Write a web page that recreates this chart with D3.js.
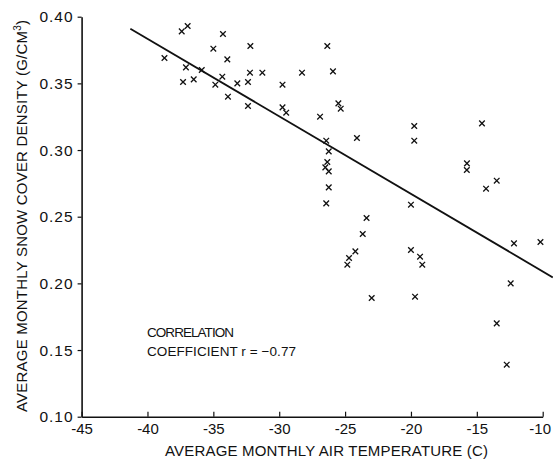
<!DOCTYPE html>
<html><head><meta charset="utf-8">
<script src="https://cdn.jsdelivr.net/npm/d3@7"></script>
<style>html,body{margin:0;padding:0;background:#fff;}svg{display:block;}</style>
</head><body>
<script>
const temps = [-38.71,-37.40,-36.95,-37.08,-37.30,-36.49,-35.88,-35.00,-34.27,-33.94,-34.32,-34.85,-33.18,-32.37,-32.19,-32.22,-31.28,-33.89,-32.37,-29.75,-29.75,-29.47,-28.27,-26.35,-25.92,-25.51,-25.33,-26.90,-26.43,-24.10,-26.24,-26.35,-26.50,-26.24,-26.24,-26.43,-23.37,-23.66,-24.22,-24.70,-24.83,-22.98,-19.75,-19.75,-20.0,-20.0,-19.31,-19.14,-19.69,-14.61,-15.75,-15.76,-13.49,-14.30,-12.18,-10.17,-12.43,-13.49,-12.73];
const densities = [0.369,0.389,0.393,0.362,0.351,0.353,0.360,0.376,0.387,0.368,0.355,0.349,0.350,0.351,0.378,0.358,0.358,0.340,0.333,0.349,0.332,0.328,0.358,0.378,0.359,0.335,0.331,0.325,0.307,0.309,0.299,0.291,0.287,0.284,0.272,0.260,0.249,0.237,0.224,0.219,0.214,0.189,0.318,0.307,0.259,0.225,0.220,0.214,0.190,0.320,0.290,0.285,0.277,0.271,0.230,0.231,0.200,0.170,0.139];
const fitT = [-41.3, -9.23];
const fitD = [0.391, 0.2045];
const xTicks = [-45,-40,-35,-30,-25,-20,-15,-10];
const xTickLabels = ["-45","-40","-35","-30","-25","-20","-15","-10"];
const yTicks = [0.10,0.15,0.20,0.25,0.30,0.35,0.40];
const yTickLabels = ["0.10","0.15","0.20","0.25","0.30","0.35","0.40"];

const W = 553, H = 464;
const svg = d3.select("body").append("svg").attr("width", W).attr("height", H);
const x = d3.scaleLinear().domain([-45,-10]).range([81.6,542.7]);
const y = d3.scaleLinear().domain([0.10,0.40]).range([416.7,16.7]);
const font = "'Liberation Sans', Arial, sans-serif";

// x axis
const xa = svg.append("g").attr("transform", `translate(0,${y(0.10)})`)
  .call(d3.axisBottom(x).tickValues(xTicks).tickSize(-5).tickFormat((d,i)=>xTickLabels[i]).tickSizeOuter(0));
xa.select(".domain").attr("stroke","#111").attr("stroke-width",1.6);
xa.selectAll(".tick line").attr("stroke","#111").attr("stroke-width",1.2);
xa.selectAll(".tick text").attr("font-family",font).attr("font-size",15).attr("fill","#111")
  .attr("y",7).attr("dy","0.71em").attr("dx",(d,i)=> i===xTicks.length-1 ? -3 : 0);

// y axis
const ya = svg.append("g").attr("transform", `translate(${x(-45)},0)`)
  .call(d3.axisLeft(y).tickValues(yTicks).tickSize(4).tickFormat((d,i)=>yTickLabels[i]).tickSizeOuter(0));
ya.select(".domain").attr("stroke","#111").attr("stroke-width",1.6);
ya.selectAll(".tick line").attr("stroke","#111").attr("stroke-width",1.2);
ya.selectAll(".tick text").attr("font-family",font).attr("font-size",15.5).attr("fill","#111")
  .attr("x",-8).attr("letter-spacing","1px");

// regression line
svg.append("path").datum(d3.zip(fitT, fitD))
  .attr("d", d3.line().x(d=>x(d[0])).y(d=>y(d[1])))
  .attr("stroke","#111").attr("stroke-width",1.8).attr("fill","none");

// crosses
const s = 2.8;
const pts = svg.append("g").selectAll("g").data(d3.zip(temps, densities)).join("g")
  .attr("transform", d=>`translate(${x(d[0])},${y(d[1])})`);
pts.append("path").attr("d", `M${-s},${-s}L${s},${s}M${-s},${s}L${s},${-s}`)
  .attr("stroke","#111").attr("stroke-width",1.3).attr("fill","none");

// axis titles
svg.append("text").attr("x",165).attr("y",456).attr("font-family",font).attr("font-size",15)
  .attr("fill","#111").attr("textLength",323).attr("lengthAdjust","spacing")
  .text("AVERAGE MONTHLY AIR TEMPERATURE (C)");

const yl = svg.append("text").attr("transform","translate(27,412) rotate(-90)")
  .attr("font-family",font).attr("font-size",15).attr("fill","#111")
  .attr("textLength",392).attr("lengthAdjust","spacing");
yl.append("tspan").text("AVERAGE MONTHLY SNOW COVER DENSITY (G/CM");
yl.append("tspan").attr("dy",-6).attr("font-size",10).text("3");
yl.append("tspan").attr("dy",6).text(")");

// correlation annotation
svg.append("text").attr("x",147).attr("y",337).attr("font-family",font).attr("font-size",13.5)
  .attr("fill","#111").attr("textLength",87).attr("lengthAdjust","spacing").text("CORRELATION");
svg.append("text").attr("x",147).attr("y",356).attr("font-family",font).attr("font-size",13.5)
  .attr("fill","#111").attr("textLength",149).attr("lengthAdjust","spacing").text("COEFFICIENT  r = −0.77");
</script>
</body></html>
